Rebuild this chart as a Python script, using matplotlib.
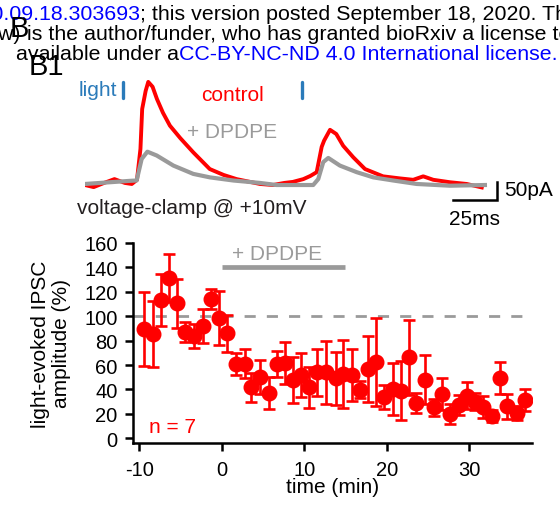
import matplotlib
matplotlib.use("Agg")
import matplotlib.pyplot as plt

plt.rcParams['font.family'] = ['Liberation Sans', 'DejaVu Sans']
plt.rcParams['axes.unicode_minus'] = False

# ---- summary data (time course) ----
time_min = [-9.4, -8.3, -7.4, -6.4, -5.4, -4.4, -3.4, -2.3, -1.3, -0.3,
            0.7, 1.7, 2.8, 3.6, 4.7, 5.7, 6.7, 7.7, 8.6, 9.6,
            10.6, 11.6, 12.6, 13.8, 14.7, 15.8, 16.7, 17.7, 18.7, 19.7,
            20.7, 21.7, 22.7, 23.6, 24.6, 25.7, 26.7, 27.7, 28.7, 29.7,
            30.7, 31.7, 32.7, 33.7, 34.6, 35.8, 36.7]
amp_pct = [89.5, 85.4, 113.3, 131.3, 110.6, 87.3, 84, 91.7, 114.1, 98.5,
           86, 61, 61, 41.8, 50, 37.1, 60.9, 61.7, 48, 51.9,
           41.8, 54, 54, 49, 52.7, 51.9, 39.8, 56.8, 62.2, 33.6,
           40.4, 39, 66.3, 29, 48, 25.4, 36.3, 19.9, 27.3, 34.9,
           30, 25.4, 18.5, 49.4, 26.2, 20.7, 31.4]
amp_sem = [30, 27, 21.5, 20, 20, 8, 10, 14, 8, 22,
           15, 9, 12, 12, 14, 13, 11, 17, 19, 18,
           17, 19, 26, 22, 28, 21, 7, 27, 36, 10,
           21, 24, 31, 8, 20, 7, 13, 8, 8, 11,
           7, 9, 5, 13, 10, 6, 9]
x_ticks = [-10, 0, 10, 20, 30]
y_ticks = [0, 20, 40, 60, 80, 100, 120, 140, 160]
drug_start, drug_end = 0, 15

# ---- example traces (ms, pA) ----
red_t = [0, 5, 11, 17, 23, 27, 30, 32, 33, 35, 36.5, 39, 41.5, 45, 49, 55, 62.5, 72, 80, 87.5,
         101, 108.5, 115, 120, 126, 130, 133.7, 136.6, 138, 141.4, 145, 149, 154.8, 161.6,
         172, 181.8, 189.4, 195.2, 201, 210.6, 220.3, 229]
red_i = [-3, -9, 3, 14, 3, 0, 12, 101, 216, 268, 294, 280, 245, 205, 168, 132, 91, 43, 26, 14,
         0, -3, 3, 6, 14, 23, 34, 107, 125, 156, 144, 110, 77, 43,
         22, 16, 12, 22, 12, 5, 0, -10]
gray_t = [0, 8.7, 17.3, 26, 29.8, 32.7, 36, 41.4, 51, 62.5, 72.1, 85.6, 101, 110.6, 131.7,
          134.6, 137.5, 140.4, 147.1, 156.8, 166.4, 177.9, 191.4, 210.6, 230.8]
gray_i = [0, 3, 6, 9, 10, 72, 93, 82, 53, 29, 19, 10, 3, -3, -3,
          14, 63, 75, 53, 34, 19, 10, 0, -5, -3]
light_t = [22, 125.4]

W, H = 560, 506
fig = plt.figure(figsize=(W / 100, H / 100), dpi=100)


def fx(px):
    return px / W


def fy(py):
    return 1 - py / H


red = '#ff0000'
gray = '#9a9a9a'
blue = '#2b7bba'

# ---- header strip (bioRxiv watermark, cut at the left edge) ----
hdr = 15.4
fig.canvas.draw()
rend = fig.canvas.get_renderer()
fig.text(fx(140), fy(20), 'https://doi.org/10.1101/2020.09.18.303693',
         color='#0000ff', fontsize=hdr, ha='right', va='baseline')
fig.text(fx(140), fy(20), '; this version posted September 18, 2020. The copyright holder',
         color='black', fontsize=hdr, ha='left', va='baseline')
fig.text(fx(21), fy(40), '(which was not certified by peer review)',
         color='black', fontsize=hdr, ha='right', va='baseline')
fig.text(fx(21), fy(40), ' is the author/funder, who has granted bioRxiv a license to display',
         color='black', fontsize=hdr, ha='left', va='baseline')
t3 = fig.text(fx(16), fy(60), 'available under a', color='black', fontsize=hdr,
              ha='left', va='baseline')
bb = t3.get_window_extent(renderer=rend)
fig.text(bb.x1 / W, fy(60), 'CC-BY-NC-ND 4.0 International license.',
         color='#0000ff', fontsize=hdr, ha='left', va='baseline')

fig.text(fx(10), fy(37), 'B', fontsize=21, ha='left', va='baseline')
fig.text(fx(29), fy(75), 'B1', fontsize=21, ha='left', va='baseline')

# ---- trace panel ----
axt = fig.add_axes([fx(85), fy(230), fx(500) - fx(85), fy(60) - fy(230)])
axt.set_xlim(0, 239.5)
axt.set_ylim(-129.7, 360)
axt.axis('off')
axt.plot(red_t, red_i, color=red, lw=2.8, solid_joinstyle='round')
axt.plot(gray_t, gray_i, color=gray, lw=3.0, solid_joinstyle='round')
for lt in light_t:
    axt.plot([lt, lt], [249, 294], color=blue, lw=2.4, solid_capstyle='round')
axt.text(18.5, 271, 'light', color=blue, fontsize=15, ha='right', va='center')
axt.text(85, 259, 'control', color=red, fontsize=15, ha='center', va='center')
axt.text(85, 151, '+ DPDPE', color=gray, fontsize=15, ha='center', va='center')
axt.text(-4.4, -69, 'voltage-clamp @ +10mV', color='#231f20', fontsize=15,
         ha='left', va='center')
# scale bars
axt.plot([212.5, 237.6, 237.6], [-45.2, -45.2, 4.9], color='black', lw=1.8,
         solid_joinstyle='miter', clip_on=False)
axt.text(241.8, -16.4, '50pA', fontsize=15, ha='left', va='center', clip_on=False)
axt.text(224.5, -98.8, '25ms', fontsize=15, ha='center', va='center', clip_on=False)

# ---- time-course panel ----
ax = fig.add_axes([fx(133), fy(444), fx(532) - fx(133), fy(244) - fy(444)])
ax.set_xlim(-10.75, 37.6)
ax.set_ylim(-3.85, 160)
for s in ['top', 'right']:
    ax.spines[s].set_visible(False)
for s in ['left', 'bottom']:
    ax.spines[s].set_linewidth(1.8)
ax.set_xticks(x_ticks)
ax.set_yticks(y_ticks)
ax.tick_params(axis='both', direction='out', length=6, width=1.8, labelsize=14.5)
ax.tick_params(axis='y', pad=5)
ax.tick_params(axis='x', pad=6)

ax.axhline(100, color=gray, lw=2.0, ls=(0, (4, 4)), zorder=1)
ax.plot([drug_start, drug_end], [140.6, 140.6], color=gray, lw=3.4,
        solid_capstyle='butt')
ax.text(6.7, 151, '+ DPDPE', color=gray, fontsize=15, ha='center', va='center')

ax.errorbar(time_min, amp_pct, yerr=amp_sem, fmt='o', color=red, ecolor=red,
            markersize=10.5, elinewidth=1.9, capsize=4.2, capthick=1.9, zorder=3)
ax.text(-6.0, 9.3, 'n = 7', color=red, fontsize=15, ha='center', va='center')

ax.set_xlabel('time (min)', fontsize=15, labelpad=-1)
fig.text(fx(51), fy(344), 'light-evoked IPSC\namplitude (%)', rotation=90,
         fontsize=15, ha='center', va='center', multialignment='center',
         linespacing=1.15)

fig.savefig('out.png', dpi=100)
